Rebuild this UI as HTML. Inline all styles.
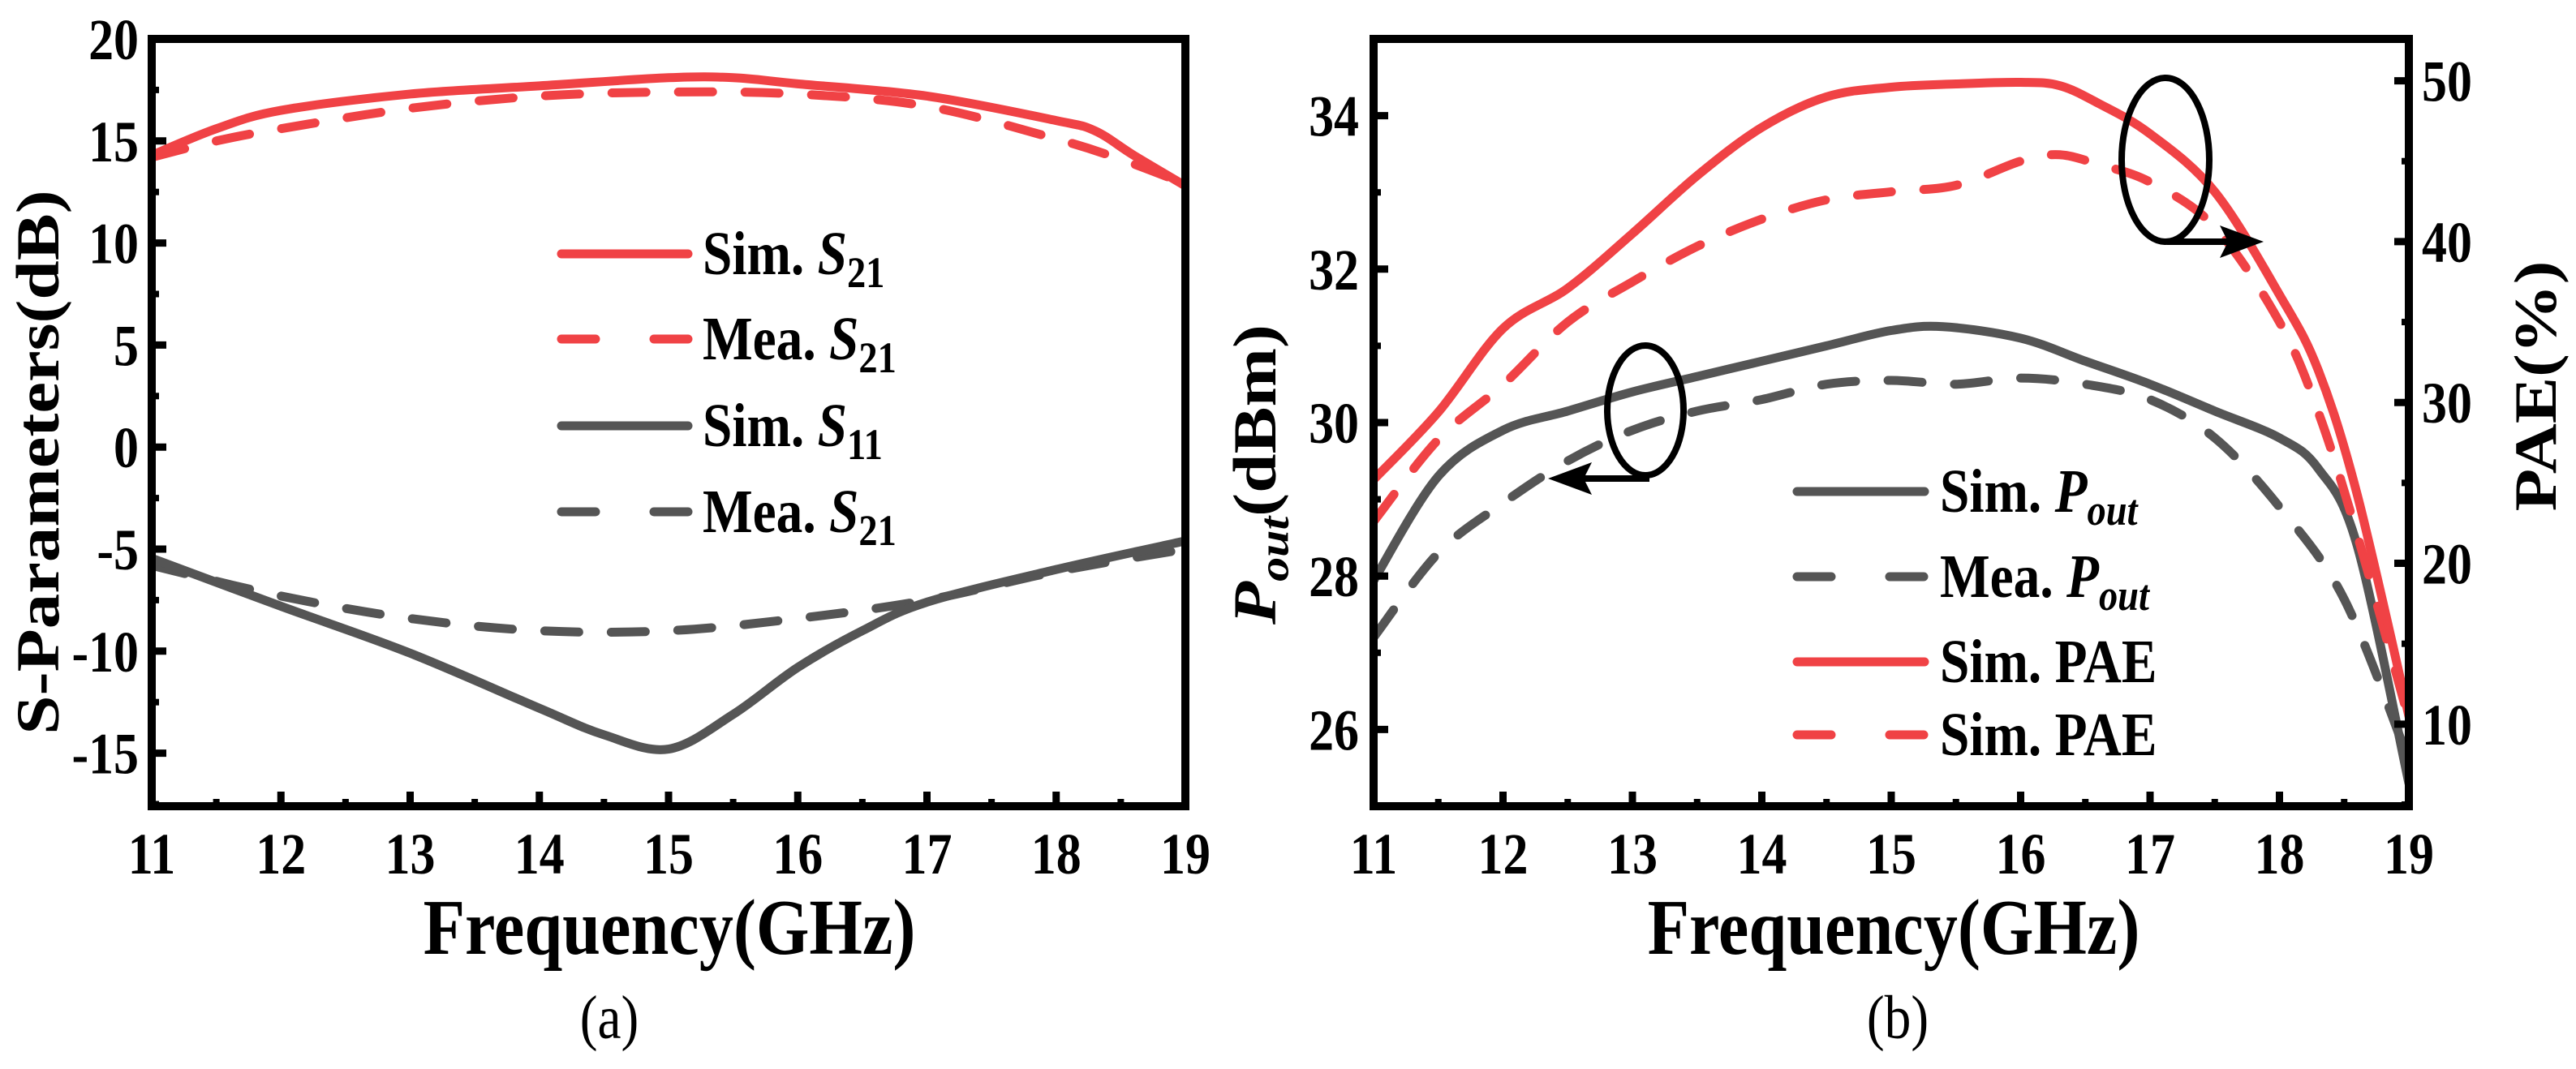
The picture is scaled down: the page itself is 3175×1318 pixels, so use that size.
<!DOCTYPE html>
<html><head><meta charset="utf-8"><style>
html,body{margin:0;padding:0;background:#fff;}
svg{display:block;}
text{font-family:"Liberation Serif","DejaVu Serif",serif;}
</style></head><body>
<svg id="fig" width="3175" height="1318" viewBox="0 0 3175 1318" xmlns="http://www.w3.org/2000/svg" font-family="Liberation Serif, DejaVu Serif, serif"></svg>
<script>
// ---------- data: panel (a) ----------
const freqA = [11, 11.5, 12, 13, 14, 15, 15.5, 16, 17, 18, 18.3, 18.6, 19];
const simS21 = [14.3, 15.6, 16.5, 17.3, 17.7, 18.1, 18.1, 17.8, 17.2, 16.0, 15.5, 14.3, 12.8];
const freqA2 = [11, 11.5, 12, 13, 14, 15, 16, 17, 18, 18.5, 19];
const meaS21 = [14.2, 15.0, 15.6, 16.6, 17.2, 17.4, 17.3, 16.7, 15.1, 14.1, 12.9];
const freqA3 = [11, 12, 13, 14, 14.5, 15, 15.5, 16, 16.5, 17, 18, 19];
const simS11 = [-5.45, -7.8, -10.1, -12.8, -14.1, -14.8, -13.1, -10.8, -9.0, -7.6, -6.0, -4.6];
const freqA4 = [11, 12, 13, 14, 15, 16, 17, 18, 19];
const meaS11 = [-5.8, -7.3, -8.4, -9.0, -9.0, -8.4, -7.5, -6.1, -5.0];
const xTicks = [11, 12, 13, 14, 15, 16, 17, 18, 19];
const yTicksA = [-15, -10, -5, 0, 5, 10, 15, 20];
// ---------- data: panel (b) ----------
const freqB = [11, 11.5, 12, 12.5, 13, 13.5, 14, 14.5, 15, 15.4, 16, 16.5, 17, 17.5, 18, 18.3, 18.6, 19];
const simPout = [27.94, 29.3, 29.9, 30.15, 30.4, 30.6, 30.8, 31.0, 31.2, 31.25, 31.1, 30.8, 30.5, 30.15, 29.8, 29.4, 28.4, 25.3];
const freqB2 = [11, 11.5, 12, 12.5, 13, 13.5, 14, 14.5, 15, 15.5, 16, 16.5, 17, 17.5, 18, 18.5, 19];
const meaPout = [27.2, 28.3, 28.95, 29.5, 29.9, 30.15, 30.3, 30.5, 30.55, 30.5, 30.58, 30.5, 30.3, 29.8, 28.9, 27.7, 25.6];
const freqB3 = [11, 11.5, 12, 12.5, 13, 13.5, 14, 14.5, 15, 15.5, 16, 16.3, 16.6, 17, 17.5, 18, 18.3, 18.6, 19];
const simPAE = [25.2, 29.4, 34.6, 37.1, 40.5, 44.1, 47.1, 49.0, 49.6, 49.8, 49.9, 49.7, 48.6, 46.7, 43.1, 36.7, 32.0, 24.3, 10.5];
const meaPAE = [22.6, 27.7, 31.1, 35.0, 37.5, 39.7, 41.4, 42.6, 43.1, 43.5, 45.0, 45.4, 44.8, 43.7, 40.9, 35.0, 29.4, 21.8, 10.3];
const yTicksBL = [26, 28, 30, 32, 34];
const yTicksBR = [10, 20, 30, 40, 50];

const NS = "http://www.w3.org/2000/svg";
const svg = document.getElementById("fig");
const RED = "#F04245", GREY = "#555555", SQ = 0.86, FF = "Liberation Serif, DejaVu Serif, serif";

function mk(tag, attrs, parent) {
  const e = document.createElementNS(NS, tag);
  for (const k in attrs) e.setAttribute(k, attrs[k]);
  if (tag === "text") e.setAttribute("font-family", FF);
  (parent || svg).appendChild(e);
  return e;
}
function txt(str, x, y, size, anchor, bold, parent) {
  const t = mk("text", {transform: `translate(${x},${y}) scale(${SQ},1)`, "font-size": size,
    "text-anchor": anchor, "font-weight": bold ? "bold" : "normal", fill: "#000"}, parent);
  t.textContent = str;
  return t;
}
function smooth(pts) {
  let d = `M${pts[0][0]},${pts[0][1]}`;
  for (let i = 0; i < pts.length - 1; i++) {
    const p0 = pts[Math.max(0, i - 1)], p1 = pts[i], p2 = pts[i + 1], p3 = pts[Math.min(pts.length - 1, i + 2)];
    const c1 = [p1[0] + (p2[0] - p0[0]) / 6, p1[1] + (p2[1] - p0[1]) / 6];
    const c2 = [p2[0] - (p3[0] - p1[0]) / 6, p2[1] - (p3[1] - p1[1]) / 6];
    d += ` C${c1[0]},${c1[1]} ${c2[0]},${c2[1]} ${p2[0]},${p2[1]}`;
  }
  return d;
}
function series(xs, ys, fx, fy, color, dashed, name) {
  const p = mk("path", {d: smooth(xs.map((v, i) => [fx(v), fy(ys[i])])), fill: "none", stroke: color,
    "stroke-width": 11, "stroke-linecap": "round", "stroke-linejoin": "round"});
  if (dashed) p.setAttribute("stroke-dasharray", "42 40");
  
  
}

// ================= panel (a) =================
const aL = 187, aR = 1461, aT = 48, aB = 994, aYmin = -17.6, aYmax = 20;
const axA = v => aL + (v - 11) / 8 * (aR - aL);
const ayA = v => aB - (v - aYmin) / (aYmax - aYmin) * (aB - aT);
const gA = mk("g", {});


const clipA = mk("clipPath", {id: "ca"});
mk("rect", {x: aL, y: aT, width: aR - aL, height: aB - aT}, clipA);
const plotA = mk("g", {"clip-path": "url(#ca)"}, gA);


function seriesA(xs, ys, c, d, n) { series(xs, ys, axA, ayA, c, d, n); plotA.appendChild(svg.lastChild); }
seriesA(freqA4, meaS11, GREY, true, "mea-s11-line");
seriesA(freqA3, simS11, GREY, false, "sim-s11-line");
seriesA(freqA2, meaS21, RED, true, "mea-s21-line");
seriesA(freqA, simS21, RED, false, "sim-s21-line");
xTicks.forEach(v => {
  const t = mk("line", {x1: axA(v), x2: axA(v), y1: aB, y2: aB - 18, stroke: "#000", "stroke-width": 9}, gA);
  
  
  if (v < 19) mk("line", {x1: axA(v + 0.5), x2: axA(v + 0.5), y1: aB, y2: aB - 9, stroke: "#000", "stroke-width": 8}, gA);
  const l = txt(String(v), axA(v), 1077, 72, "middle", true, gA);
  
  
});
yTicksA.forEach(v => {
  const t = mk("line", {x1: aL, x2: aL + 18, y1: ayA(v), y2: ayA(v), stroke: "#000", "stroke-width": 9}, gA);
  
  
  mk("line", {x1: aL, x2: aL + 9, y1: ayA(v - 2.5), y2: ayA(v - 2.5), stroke: "#000", "stroke-width": 8}, gA);
  const l = txt(String(v), aL - 16, ayA(v) + 25, 72, "end", true, gA);
  
  
});
const frA = mk("rect", {x: aL, y: aT, width: aR - aL, height: aB - aT, fill: "none", stroke: "#000", "stroke-width": 10}, gA);


const xtA = txt("Frequency(GHz)", 825, 1176, 98, "middle", true, gA);


const ytA = mk("text", {transform: "translate(72,570) rotate(-90) scale(1,0.86)", "font-size": 87, "font-weight": "bold", "text-anchor": "middle"}, gA);
ytA.textContent = "S-Parameters(dB)";


const capA = txt("(a)", 751, 1280, 76, "middle", false, gA);


const legA = [["Sim. ", "21", RED, false], ["Mea. ", "21", RED, true], ["Sim. ", "11", GREY, false], ["Mea. ", "21", GREY, true]];
const legAy = [313, 418, 525, 631];
legA.forEach((e, i) => {
  const g = mk("g", {}, gA);
  
  
  const ln = mk("line", {x1: 692, x2: 848, y1: legAy[i], y2: legAy[i], stroke: e[2], "stroke-width": 11, "stroke-linecap": "round"}, g);
  if (e[3]) ln.setAttribute("stroke-dasharray", "42 72");
  const t = mk("text", {transform: `translate(866,${legAy[i] + 25}) scale(${SQ},1)`, "font-size": 76, "font-weight": "bold"}, g);
  const s1 = mk("tspan", {}, t); s1.textContent = e[0];
  const s2 = mk("tspan", {"font-style": "italic"}, t); s2.textContent = "S";
  const s3 = mk("tspan", {"font-size": 54, dy: 16}, t); s3.textContent = e[1];
});

// ================= panel (b) =================
const bL = 1693, bR = 2969, bT = 48, bB = 994, bYmin = 25, bYmax = 35, pMin = 4.9, pMax = 52.6;
const axB = v => bL + (v - 11) / 8 * (bR - bL);
const ayB = v => bB - (v - bYmin) / (bYmax - bYmin) * (bB - bT);
const ayP = v => bB - (v - pMin) / (pMax - pMin) * (bB - bT);
const gB = mk("g", {});


const clipB = mk("clipPath", {id: "cb"});
mk("rect", {x: bL, y: bT, width: bR - bL, height: bB - bT}, clipB);
const plotB = mk("g", {"clip-path": "url(#cb)"}, gB);


function seriesB(xs, ys, fy, c, d, n) { series(xs, ys, axB, fy, c, d, n); plotB.appendChild(svg.lastChild); }
seriesB(freqB2, meaPout, ayB, GREY, true, "mea-pout-line");
seriesB(freqB, simPout, ayB, GREY, false, "sim-pout-line");
seriesB(freqB3, meaPAE, ayP, RED, true, "mea-pae-line");
seriesB(freqB3, simPAE, ayP, RED, false, "sim-pae-line");
xTicks.forEach(v => {
  const t = mk("line", {x1: axB(v), x2: axB(v), y1: bB, y2: bB - 18, stroke: "#000", "stroke-width": 9}, gB);
  
  
  if (v < 19) mk("line", {x1: axB(v + 0.5), x2: axB(v + 0.5), y1: bB, y2: bB - 9, stroke: "#000", "stroke-width": 8}, gB);
  const l = txt(String(v), axB(v), 1077, 72, "middle", true, gB);
  
  
});
yTicksBL.forEach(v => {
  const t = mk("line", {x1: bL, x2: bL + 18, y1: ayB(v), y2: ayB(v), stroke: "#000", "stroke-width": 9}, gB);
  
  
  mk("line", {x1: bL, x2: bL + 9, y1: ayB(v + 1), y2: ayB(v + 1), stroke: "#000", "stroke-width": 8}, gB);
  const l = txt(String(v), bL - 18, ayB(v) + 25, 72, "end", true, gB);
  
  
});
yTicksBR.forEach(v => {
  const t = mk("line", {x1: bR, x2: bR - 18, y1: ayP(v), y2: ayP(v), stroke: "#000", "stroke-width": 9}, gB);
  
  
  mk("line", {x1: bR, x2: bR - 9, y1: ayP(v - 5), y2: ayP(v - 5), stroke: "#000", "stroke-width": 8}, gB);
  const l = txt(String(v), bR + 16, ayP(v) + 25, 72, "start", true, gB);
  
  
});
const frB = mk("rect", {x: bL, y: bT, width: bR - bL, height: bB - bT, fill: "none", stroke: "#000", "stroke-width": 10}, gB);


const xtB = txt("Frequency(GHz)", 2334, 1176, 98, "middle", true, gB);


const ytB = mk("text", {transform: "translate(1572,585) rotate(-90) scale(1,0.86)", "font-size": 87, "font-weight": "bold", "text-anchor": "middle"}, gB);


const p1 = mk("tspan", {"font-style": "italic"}, ytB); p1.textContent = "P";
const p2 = mk("tspan", {"font-style": "italic", "font-size": 60, dy: 18}, ytB); p2.textContent = "out";
const p3 = mk("tspan", {dy: -18}, ytB); p3.textContent = "(dBm)";
const ytB2 = mk("text", {transform: "translate(3150,476) rotate(-90) scale(1,0.86)", "font-size": 86, "font-weight": "bold", "text-anchor": "middle"}, gB);
ytB2.textContent = "PAE(%)";


const capB = txt("(b)", 2339, 1280, 76, "middle", false, gB);


const e1 = mk("ellipse", {cx: 2028, cy: 506, rx: 47, ry: 80, fill: "none", stroke: "#000", "stroke-width": 8}, gB);


const a1 = mk("path", {d: "M2033,590 L1950,590", stroke: "#000", "stroke-width": 8, fill: "none"}, gB);


mk("path", {d: "M1908,590 L1962,570 L1952,590 L1962,610 Z", fill: "#000"}, gB);
const e2 = mk("ellipse", {cx: 2669, cy: 197, rx: 54, ry: 101, fill: "none", stroke: "#000", "stroke-width": 8}, gB);


const a2 = mk("path", {d: "M2671,298 L2750,298", stroke: "#000", "stroke-width": 8, fill: "none"}, gB);


mk("path", {d: "M2790,298 L2736,278 L2746,298 L2736,318 Z", fill: "#000"}, gB);
const legB = [["Sim. ", true, GREY, false], ["Mea. ", true, GREY, true], ["Sim. PAE", false, RED, false], ["Sim. PAE", false, RED, true]];
const legBy = [606, 711, 816, 906];
legB.forEach((e, i) => {
  const g = mk("g", {}, gB);
  
  
  const ln = mk("line", {x1: 2215, x2: 2372, y1: legBy[i], y2: legBy[i], stroke: e[2], "stroke-width": 11, "stroke-linecap": "round"}, g);
  if (e[3]) ln.setAttribute("stroke-dasharray", "42 72");
  const t = mk("text", {transform: `translate(2391,${legBy[i] + 25}) scale(${SQ},1)`, "font-size": 76, "font-weight": "bold"}, g);
  const s1 = mk("tspan", {}, t); s1.textContent = e[0];
  if (e[1]) {
    const s2 = mk("tspan", {"font-style": "italic"}, t); s2.textContent = "P";
    const s3 = mk("tspan", {"font-style": "italic", "font-size": 54, dy: 16}, t); s3.textContent = "out";
  }
});
</script>
</body></html>
